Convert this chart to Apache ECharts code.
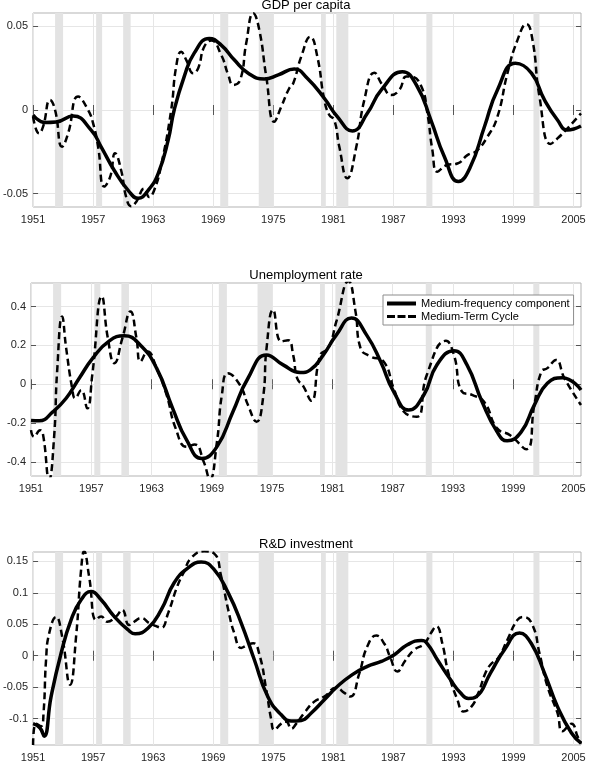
<!DOCTYPE html>
<html>
<head>
<meta charset="utf-8">
<script src="https://cdn.jsdelivr.net/npm/echarts@6/dist/echarts.min.js"></script>
<style>html,body{margin:0;padding:0;background:#fff;}#c{width:595px;height:764px;}</style>
</head>
<body>
<div id="c"></div>
<script>
const panelTitles = ['GDP per capita', 'Unemployment rate', 'R&D investment'];
const seriesNames = ['Medium-frequency component', 'Medium-Term Cycle'];
const xTicks = [1951, 1957, 1963, 1969, 1975, 1981, 1987, 1993, 1999, 2005];
const yTicksGdp = [-0.05, 0, 0.05];
const yTicksUr = [-0.4, -0.2, 0, 0.2, 0.4];
const yTicksRd = [-0.1, -0.05, 0, 0.05, 0.1, 0.15];
const recessions = [[1953.2,1954.0],[1957.3,1957.9],[1960.0,1960.75],[1969.7,1970.5],[1973.55,1975.0],[1979.77,1980.25],[1981.3,1982.5],[1990.3,1990.9],[2001.0,2001.6]];

const gdpMF = [[1951,-0.003],[1952.2,-0.0075],[1953.3,-0.0072],[1955,-0.0036],[1956.8,-0.012],[1957.8,-0.022],[1959.1,-0.036],[1960.5,-0.048],[1961.5,-0.0528],[1962.5,-0.048],[1963.5,-0.038],[1964.5,-0.018],[1965.1,0.0],[1966.1,0.020],[1967.1,0.034],[1968.6,0.0428],[1969.8,0.0388],[1971.1,0.030],[1972.5,0.022],[1974.1,0.0185],[1975.5,0.021],[1977.1,0.0245],[1978.4,0.019],[1980.1,0.007],[1981.4,-0.004],[1982.9,-0.0125],[1984.4,-0.002],[1985.8,0.012],[1987.9,0.0229],[1989.4,0.0139],[1990.75,-0.006],[1992.1,-0.028],[1993.5,-0.0428],[1994.7,-0.034],[1996.1,-0.010],[1997.4,0.012],[1999.2,0.0279],[2000.8,0.022],[2002.1,0.006],[2003.4,-0.006],[2004.4,-0.012],[2005.75,-0.0096]];
const gdpMTC = [[1951,-0.004],[1951.6,-0.014],[1952.0,-0.010],[1952.7,0.006],[1953.2,0.0],[1953.9,-0.022],[1954.5,-0.014],[1955.5,0.008],[1956.5,0.0],[1957.0,-0.008],[1957.5,-0.022],[1958.1,-0.0458],[1958.7,-0.040],[1959.2,-0.0259],[1959.8,-0.036],[1960.3,-0.052],[1960.8,-0.0575],[1961.3,-0.055],[1962.1,-0.047],[1962.6,-0.052],[1963.1,-0.048],[1963.8,-0.033],[1964.8,0.0],[1965.3,0.026],[1965.8,0.0348],[1966.3,0.030],[1967.0,0.022],[1967.5,0.025],[1968.1,0.0378],[1968.8,0.0416],[1969.8,0.0329],[1970.5,0.021],[1971.0,0.015],[1971.7,0.018],[1972.3,0.040],[1973.0,0.0578],[1973.6,0.048],[1974.3,0.020],[1975.1,-0.007],[1975.8,0.002],[1976.6,0.013],[1977.0,0.016],[1977.8,0.032],[1978.7,0.0438],[1979.4,0.032],[1980.1,0.006],[1980.6,-0.003],[1981.1,-0.006],[1981.6,-0.022],[1982.4,-0.0408],[1983.3,-0.022],[1984.1,0.006],[1985.1,0.0223],[1985.9,0.015],[1986.8,0.009],[1987.6,0.012],[1988.3,0.020],[1988.8,0.0199],[1989.8,0.014],[1990.4,-0.002],[1990.9,-0.024],[1991.4,-0.0369],[1992.3,-0.033],[1993.4,-0.032],[1994.4,-0.027],[1995.3,-0.0245],[1996.4,-0.016],[1997.4,-0.004],[1998.4,0.022],[1999.4,0.0418],[2000.3,0.0514],[2000.9,0.042],[2001.6,0.008],[2002.7,-0.0203],[2003.4,-0.017],[2004.4,-0.011],[2005.75,-0.002]];

const urMF = [[1951,-0.186],[1951.8,-0.188],[1953.2,-0.141],[1954.5,-0.072],[1955.8,0.031],[1957.15,0.134],[1958.8,0.2235],[1960.3,0.249],[1961.8,0.206],[1963.5,0.083],[1965.1,-0.124],[1966.5,-0.288],[1968.0,-0.382],[1969.5,-0.322],[1971.1,-0.141],[1972.6,0.031],[1974.45,0.151],[1976.1,0.0996],[1977.8,0.060],[1978.8,0.074],[1980.1,0.151],[1981.4,0.254],[1982.9,0.341],[1984.4,0.254],[1985.8,0.117],[1987.1,-0.038],[1988.6,-0.133],[1990.1,-0.055],[1991.4,0.0996],[1993.1,0.173],[1994.4,0.0996],[1995.9,-0.090],[1997.4,-0.245],[1998.4,-0.291],[1999.8,-0.245],[2001.1,-0.107],[2002.4,0.005],[2003.9,0.034],[2005.75,-0.029]];
const urMTC = [[1951,-0.236],[1951.3,-0.27],[1951.9,-0.236],[1952.2,-0.26],[1952.8,-0.49],[1953.3,-0.27],[1953.6,0.065],[1954.1,0.349],[1954.5,0.186],[1955.1,-0.021],[1955.4,-0.072],[1956.0,-0.03],[1956.6,-0.124],[1957.1,0.048],[1958.05,0.452],[1958.65,0.237],[1959.3,0.108],[1960.1,0.237],[1960.9,0.375],[1961.5,0.237],[1961.9,0.117],[1962.6,0.168],[1963.5,0.083],[1964.5,-0.055],[1965.4,-0.227],[1966.5,-0.322],[1967.3,-0.31],[1968.2,-0.40],[1968.8,-0.49],[1969.5,-0.30],[1970.0,-0.055],[1970.6,0.057],[1971.8,-0.004],[1972.6,-0.107],[1973.45,-0.193],[1974.1,-0.07],[1974.45,0.186],[1975.1,0.383],[1975.9,0.22],[1976.6,0.227],[1977.1,0.15],[1977.5,0.03],[1978.1,-0.01],[1978.9,-0.085],[1979.8,0.151],[1980.6,0.186],[1981.4,0.323],[1982.6,0.53],[1983.3,0.375],[1983.8,0.186],[1984.8,0.143],[1986.1,0.117],[1987.1,-0.021],[1988.1,-0.14],[1989.4,-0.167],[1990.4,0.048],[1992.3,0.2235],[1993.1,0.151],[1993.9,-0.038],[1994.9,-0.055],[1996.1,-0.09],[1997.4,-0.227],[1998.7,-0.262],[2000.3,-0.334],[2001.1,-0.107],[2001.8,0.065],[2002.4,0.083],[2003.25,0.125],[2004.1,0.031],[2005.75,-0.107]];

const rdMF = [[1951,-0.108],[1951.7,-0.115],[1952.1,-0.128],[1952.8,-0.065],[1953.8,0.004],[1954.8,0.057],[1955.8,0.089],[1956.8,0.102],[1957.8,0.089],[1959.1,0.0626],[1960.5,0.041],[1961.2,0.035],[1962.5,0.044],[1963.8,0.073],[1965.1,0.116],[1966.5,0.140],[1967.8,0.149],[1969.1,0.137],[1970.5,0.10],[1971.8,0.052],[1973.1,-0.006],[1974.45,-0.065],[1975.8,-0.094],[1976.8,-0.104],[1977.8,-0.103],[1978.8,-0.091],[1980.1,-0.070],[1981.4,-0.049],[1982.9,-0.030],[1984.4,-0.017],[1985.8,-0.009],[1987.1,0.0016],[1988.4,0.0175],[1989.8,0.0244],[1990.4,0.019],[1991.4,-0.0064],[1992.7,-0.038],[1993.7,-0.059],[1994.5,-0.068],[1995.3,-0.065],[1996.7,-0.0276],[1998.1,0.0096],[1999.6,0.036],[2000.8,0.019],[2002.1,-0.0276],[2003.4,-0.081],[2004.8,-0.123],[2005.75,-0.139]];
const rdMTC = [[1951,-0.142],[1951.3,-0.108],[1951.8,-0.112],[1952.05,-0.09],[1952.3,-0.006],[1952.6,0.035],[1953.3,0.0616],[1953.9,0.031],[1954.7,-0.046],[1955.3,0.031],[1955.8,0.137],[1956.1,0.166],[1956.6,0.126],[1957.3,0.057],[1957.8,0.0626],[1958.4,0.054],[1959.3,0.0626],[1959.9,0.073],[1960.6,0.049],[1961.1,0.054],[1961.8,0.060],[1962.6,0.052],[1963.3,0.047],[1963.8,0.0445],[1964.5,0.068],[1965.4,0.110],[1966.1,0.134],[1966.8,0.1555],[1968.1,0.166],[1969.1,0.1625],[1969.8,0.126],[1970.5,0.073],[1971.1,0.036],[1971.8,0.0123],[1972.3,0.016],[1973.0,0.020],[1973.6,0.003],[1974.3,-0.054],[1974.8,-0.102],[1975.1,-0.118],[1975.8,-0.108],[1976.3,-0.105],[1976.8,-0.116],[1977.3,-0.108],[1978.1,-0.091],[1979.1,-0.073],[1980.1,-0.065],[1981.3,-0.051],[1982.1,-0.059],[1982.7,-0.065],[1983.6,-0.028],[1984.4,0.015],[1985.3,0.032],[1986.1,0.019],[1986.7,-0.003],[1987.4,-0.025],[1988.2,-0.0075],[1989.1,0.0096],[1990.1,0.019],[1990.75,0.036],[1991.3,0.0467],[1991.9,0.019],[1992.5,-0.0276],[1993.4,-0.070],[1994.0,-0.0887],[1994.8,-0.081],[1995.5,-0.059],[1996.2,-0.0276],[1996.7,-0.0143],[1997.5,-0.003],[1998.4,0.0255],[1999.4,0.057],[2000.0,0.0616],[2000.9,0.049],[2001.6,0.004],[2002.4,-0.049],[2003.4,-0.091],[2003.9,-0.12],[2004.8,-0.108],[2005.4,-0.128],[2005.75,-0.14]];

const FONT = 'Liberation Sans, Arial, Helvetica, sans-serif';
const gridTops = [13, 283, 552];
const gridHeights = [194, 193, 193];
const yRanges = [[-0.058, 0.058], [-0.472, 0.521], [-0.142, 0.165]];
const yTickSets = [yTicksGdp, yTicksUr, yTicksRd];
const panelData = [[gdpMF, gdpMTC], [urMF, urMTC], [rdMF, rdMTC]];

const tickStyle = {color: '#555', width: 1};
const grids = [], xAxes = [], yAxes = [], series = [], graphics = [];
for (let i = 0; i < 3; i++) {
  grids.push({left: 31, width: 550, top: gridTops[i], height: gridHeights[i], show: true,
    borderColor: '#b3b3b3', borderWidth: 1, backgroundColor: 'transparent'});
  xAxes.push({gridIndex: i, type: 'value', position: 'bottom', min: 1951, max: 2005.75,
    axisLine: {show: false},
    axisTick: {show: true, inside: true, length: 5, customValues: xTicks, lineStyle: tickStyle},
    axisLabel: {customValues: xTicks, fontSize: 11, color: '#262626', margin: 7, fontFamily: FONT, formatter: v => String(v)},
    splitLine: {show: true, lineStyle: {color: '#e6e6e6', width: 1}}
  });
  xAxes.push({gridIndex: i, type: 'value', position: 'top', min: 1951, max: 2005.75,
    axisLine: {show: false},
    axisTick: {show: true, inside: true, length: 5, customValues: xTicks, lineStyle: tickStyle},
    axisLabel: {show: false}, splitLine: {show: false}
  });
  yAxes.push({gridIndex: i, type: 'value', position: 'left', min: yRanges[i][0], max: yRanges[i][1],
    axisLine: {show: false},
    axisTick: {show: true, inside: true, length: 5, customValues: yTickSets[i], lineStyle: tickStyle},
    axisLabel: {customValues: yTickSets[i], fontSize: 11, color: '#262626', margin: 5, fontFamily: FONT, formatter: v => String(v)},
    splitLine: {show: true, lineStyle: {color: '#e6e6e6', width: 1}}
  });
  yAxes.push({gridIndex: i, type: 'value', position: 'right', min: yRanges[i][0], max: yRanges[i][1],
    axisLine: {show: false},
    axisTick: {show: true, inside: true, length: 5, customValues: yTickSets[i], lineStyle: tickStyle},
    axisLabel: {show: false}, splitLine: {show: false}
  });
  const xi = 2 * i, yi = 2 * i;
  series.push({type: 'line', xAxisIndex: xi, yAxisIndex: yi, data: [], z: 1, silent: true,
    markArea: {silent: true, itemStyle: {color: '#e3e3e3'},
      data: recessions.map(r => [{xAxis: r[0]}, {xAxis: r[1]}])}
  });
  series.push({type: 'line', name: seriesNames[0], xAxisIndex: xi, yAxisIndex: yi, data: panelData[i][0],
    smooth: 0.5, showSymbol: false, symbol: 'none', z: 3, silent: true,
    lineStyle: {color: '#000', width: 3.5, type: 'solid'}, itemStyle: {color: '#000'}});
  series.push({type: 'line', name: seriesNames[1], xAxisIndex: xi, yAxisIndex: yi, data: panelData[i][1],
    smooth: 0.5, showSymbol: false, symbol: 'none', z: 4, silent: true,
    lineStyle: {color: '#000', width: 2.5, type: [7, 4]}, itemStyle: {color: '#000'}});
  graphics.push({type: 'text', x: 306, y: gridTops[i] - 8, z: 10,
    style: {text: panelTitles[i], align: 'center', verticalAlign: 'middle', fontSize: 13, fontFamily: FONT, fill: '#000'}});
}

const chart = echarts.init(document.getElementById('c'), null, {renderer: 'canvas'});
chart.setOption({
  animation: false,
  backgroundColor: '#fff',
  grid: grids, xAxis: xAxes, yAxis: yAxes, series: series,
  graphic: graphics,
  legend: {
    data: [
      {name: seriesNames[0], icon: 'path://M0,0H29V4H0Z'},
      {name: seriesNames[1], icon: 'path://M0,0H8V3H0Z M10.5,0H18.5V3H10.5Z M21,0H29V3H21Z'}
    ],
    orient: 'vertical', left: 383, top: 295, itemWidth: 29, itemHeight: 10, itemGap: 2, symbolKeepAspect: true,
    backgroundColor: '#fff', borderColor: '#8c8c8c', borderWidth: 1, borderRadius: 0, padding: [3, 4, 3, 4],
    selectedMode: false, textStyle: {fontSize: 11, color: '#000', fontFamily: FONT}, z: 20}
});
</script>
</body>
</html>
